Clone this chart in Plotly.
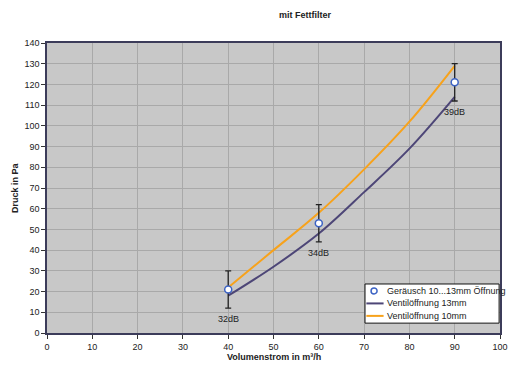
import plotly.graph_objects as go

# Data
mess_x = [40, 60, 90]
mess_y = [21, 53, 121]
mess_err = [9, 9, 9]
db_labels = ["32dB", "34dB", "39dB"]

kurve_x = [40, 50, 60, 70, 80, 90]
ventil_13mm = [18, 32, 48, 68, 89, 114]
ventil_10mm = [22, 40, 58, 79, 102, 129]

x_ticks = list(range(0, 101, 10))
y_ticks = list(range(0, 141, 10))

legend_names = ["Geräusch 10...13mm Öffnung", "Ventilöffnung 13mm", "Ventilöffnung 10mm"]

font = "Liberation Sans, Arial, sans-serif"
c13 = "#4d4677"
c10 = "#f7a21b"
cmark = "#3b62c4"

fig = go.Figure()
fig.add_trace(go.Scatter(
    x=kurve_x, y=ventil_13mm, mode="lines", name=legend_names[1],
    line=dict(color=c13, width=2, shape="spline"),
))
fig.add_trace(go.Scatter(
    x=kurve_x, y=ventil_10mm, mode="lines", name=legend_names[2],
    line=dict(color=c10, width=2, shape="spline"),
))
fig.add_trace(go.Scatter(
    x=mess_x, y=mess_y, mode="markers", name=legend_names[0],
    marker=dict(symbol="circle", size=7, color="white",
                line=dict(color=cmark, width=1.5)),
    error_y=dict(type="data", array=mess_err, visible=True,
                 color="#222222", thickness=1.3, width=3),
))

annotations = []
for x, y, e, lab in zip(mess_x, mess_y, mess_err, db_labels):
    annotations.append(dict(x=x, y=y - e, text=lab, showarrow=False,
                            yanchor="top", yshift=-4,
                            font=dict(family=font, size=9, color="#222222")))

annotations.append(dict(text="<b>mit Fettfilter</b>", xref="paper", yref="paper",
                        x=0.57, y=1.0, yshift=28, showarrow=False, yanchor="middle",
                        font=dict(family=font, size=9, color="#222222")))
annotations.append(dict(text="<b>Volumenstrom in m³/h</b>", xref="paper", yref="paper",
                        x=0.5, y=0, yshift=-24, showarrow=False, yanchor="middle",
                        font=dict(family=font, size=9, color="#222222")))
annotations.append(dict(text="<b>Druck in Pa</b>", xref="paper", yref="paper",
                        x=0, y=0.5, xshift=-32, showarrow=False, textangle=-90,
                        xanchor="center", yanchor="middle",
                        font=dict(family=font, size=9, color="#222222")))

# custom legend (compact box like the reference)
shapes = [dict(type="rect", xref="paper", yref="paper",
               x0=0.702, x1=0.998, y0=0.034, y1=0.169,
               fillcolor="white", line=dict(color="#111111", width=1), layer="above")]
rows_y = [0.145, 0.102, 0.059]
shapes.append(dict(type="circle", xref="paper", yref="paper",
                   xsizemode="pixel", ysizemode="pixel",
                   xanchor=0.722, yanchor=rows_y[0],
                   x0=-3, x1=3, y0=-3, y1=3,
                   fillcolor="white", line=dict(color=cmark, width=1.5), layer="above"))
for yy, col in zip(rows_y[1:], [c13, c10]):
    shapes.append(dict(type="line", xref="paper", yref="paper",
                       x0=0.705, x1=0.743, y0=yy, y1=yy,
                       line=dict(color=col, width=2), layer="above"))
for yy, name in zip(rows_y, legend_names):
    annotations.append(dict(text=name, xref="paper", yref="paper", x=0.746, y=yy,
                            xanchor="left", yanchor="middle", showarrow=False,
                            font=dict(family=font, size=9, color="#222222")))

fig.update_layout(
    width=523, height=365,
    margin=dict(l=47, r=23, t=43, b=32),
    paper_bgcolor="white",
    plot_bgcolor="#c8c8c8",
    font=dict(family=font, size=9, color="#222222"),
    showlegend=False,
    annotations=annotations,
    shapes=shapes,
)
fig.update_xaxes(
    range=[0, 100], tickvals=x_ticks, ticks="outside", ticklen=4,
    tickcolor="#333333", showgrid=True, gridcolor="#a9a9a9", gridwidth=1,
    showline=True, linecolor="#3c3c5a", linewidth=1.5, mirror=True,
    zeroline=False, automargin=False,
    tickfont=dict(family=font, size=9),
)
fig.update_yaxes(
    range=[0, 140], tickvals=y_ticks, ticks="outside", ticklen=4,
    tickcolor="#333333", showgrid=True, gridcolor="#a9a9a9", gridwidth=1,
    showline=True, linecolor="#3c3c5a", linewidth=1.5, mirror=True,
    zeroline=False, automargin=False,
    tickfont=dict(family=font, size=9),
)

fig.write_html("out.html")
